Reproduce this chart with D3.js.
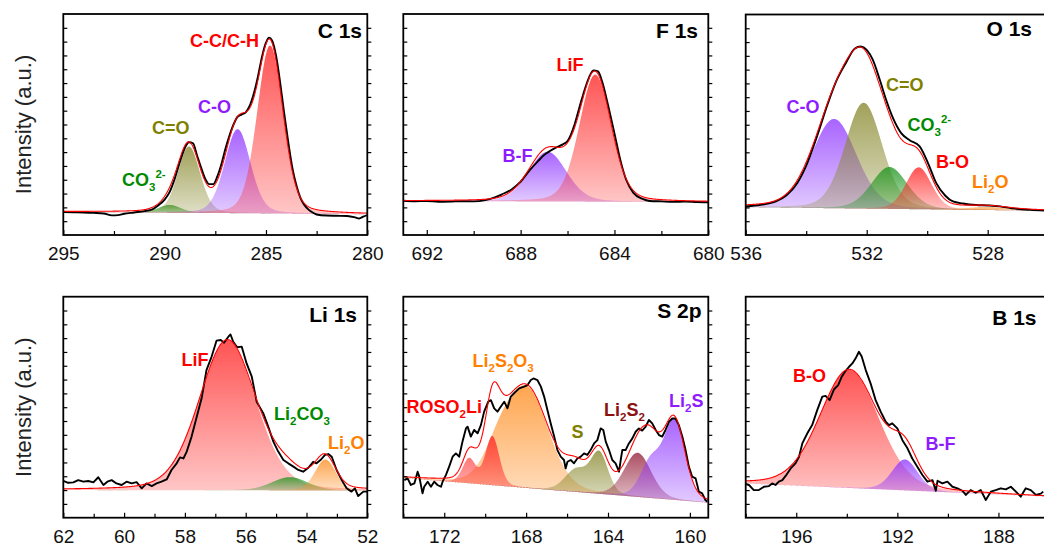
<!DOCTYPE html>
<html>
<head>
<meta charset="utf-8">
<script src="https://cdn.jsdelivr.net/npm/d3@7"></script>
<style>
  html, body { margin: 0; padding: 0; background: #fff; }
  svg { display: block; font-family: "Liberation Sans", Arial, sans-serif; }
</style>
</head>
<body>
<svg id="fig" width="1044" height="549"></svg>
<script>
// ---------------- XPS spectra: measured data (binding energy eV, intensity a.u.) ----------------
const c1sRange = [295, 280];
const c1sTicks = [295, 290, 285, 280];
const c1sMinor = [292.5, 287.5, 282.5];
const c1sBackground = [[295, 10.5], [280, 9.4]];
const c1sRaw = [[295.0,10.4],[294.5,10.3],[294.0,10.2],[293.5,10.0],[293.0,9.7],[292.6,8.9],[292.3,9.0],[292.0,9.6],
  [291.5,10.2],[291.0,10.8],[290.6,11.6],[290.3,13.5],[290.0,16.0],[289.75,19.5],[289.5,25.5],[289.25,33.0],
  [289.0,39.5],[288.8,42.0],[288.6,41.5],[288.4,36.0],[288.2,30.5],[288.0,25.5],[287.8,23.0],[287.6,23.0],
  [287.4,26.5],[287.2,32.0],[287.0,39.0],[286.8,45.0],[286.6,50.0],[286.4,53.5],[286.2,54.5],[286.0,55.5],
  [285.8,58.5],[285.6,64.0],[285.4,71.5],[285.2,80.5],[285.0,87.0],[284.85,89.3],[284.7,88.0],[284.5,81.0],
  [284.3,69.0],[284.1,55.0],[283.9,42.0],[283.7,30.5],[283.5,22.5],[283.3,16.8],[283.1,13.5],[282.9,11.5],
  [282.7,10.2],[282.5,9.3],[282.0,8.8],[281.5,8.7],[281.0,8.6],[280.6,8.0],[280.4,7.5],[280.2,8.3],[280.0,9.0]];
// fitted components: [centre eV, height, FWHM eV]
const c1sComponents = [
  { species: "CO3", peaks: [[289.75, 3.5, 1.3]] },
  { species: "C=O", peaks: [[288.8, 30, 1.3]] },
  { species: "C-O", peaks: [[286.4, 38, 1.5]] },
  { species: "C-C/C-H", peaks: [[284.8, 76, 1.5]] }
];

const f1sRange = [693, 680];
const f1sTicks = [692, 688, 684, 680];
const f1sMinor = [690, 686, 682];
const f1sBackground = [[693, 15.4], [680, 14.9]];
const f1sRaw = [[693.0,15.5],[692.5,15.3],[692.0,15.4],[691.5,15.0],[691.0,15.1],[690.5,15.3],[690.0,15.2],
  [689.5,15.8],[689.1,17.0],[688.8,18.4],[688.4,20.5],[688.0,24.1],[687.6,29.5],[687.25,33.5],[687.0,36.2],
  [686.75,38.0],[686.5,39.5],[686.2,41.0],[686.0,42.5],[685.7,50.0],[685.5,57.5],[685.2,68.0],[684.9,74.5],
  [684.7,74.0],[684.5,68.5],[684.3,60.0],[684.0,46.0],[683.75,34.0],[683.5,25.0],[683.2,19.2],[682.8,16.3],
  [682.5,15.4],[682.0,15.2],[681.5,15.0],[681.0,15.1],[680.5,14.9],[680.0,14.8]];
const f1sComponents = [
  { species: "B-F", peaks: [[686.85, 22.5, 1.9]] },
  { species: "LiF", peaks: [[684.82, 57.5, 1.6]] }
];

const o1sRange = [536, 526];
const o1sTicks = [536, 532, 528];
const o1sMinor = [534, 530, 526];
const o1sBackground = [[536, 12.6], [526, 11.0]];
const o1sRaw = [[536.0,12.9],[535.5,13.7],[535.0,15.2],[534.65,18.0],[534.3,23.5],[534.0,31.5],[533.65,44.5],
  [533.3,59.0],[533.0,70.0],[532.67,78.5],[532.4,84.5],[532.2,85.5],[532.0,84.0],[531.8,79.5],[531.57,70.5],
  [531.35,61.0],[531.13,53.0],[530.86,46.2],[530.58,43.0],[530.25,40.2],[529.97,32.5],[529.7,23.5],
  [529.4,17.8],[529.15,15.2],[528.82,14.3],[528.38,13.6],[528.0,13.4],[527.6,13.0],[527.2,12.1],[526.6,11.4],
  [526.0,11.0]];
const o1sComponents = [
  { species: "C-O", peaks: [[533.08, 40.5, 1.75]] },
  { species: "C=O", peaks: [[532.1, 48, 1.45]] },
  { species: "CO3", peaks: [[531.25, 19, 1.4]] },
  { species: "B-O", peaks: [[530.28, 19, 1.0]] },
  { species: "Li2O", peaks: [[528.0, 1.3, 1.6]] }
];

const li1sRange = [62, 52];
const li1sTicks = [62, 60, 58, 56, 54, 52];
const li1sMinor = [61, 59, 57, 55, 53];
const li1sBackground = [[62, 12.5], [52, 12.3]];
const li1sRaw = [[62.00,16.7],[61.84,15.8],[61.67,16.0],[61.51,17.0],[61.34,16.3],[61.18,16.6],[61.01,16.0],
  [60.85,18.3],[60.68,14.8],[60.55,16.3],[60.41,17.0],[60.25,15.5],[60.08,14.8],[59.92,16.3],[59.75,15.5],
  [59.59,16.1],[59.42,13.3],[59.26,15.5],[59.09,14.3],[58.93,15.5],[58.77,16.3],[58.60,17.3],[58.44,21.6],
  [58.27,24.6],[58.16,27.3],[58.05,26.8],[57.94,29.9],[57.78,36.7],[57.61,45.7],[57.45,54.0],[57.29,66.8],
  [57.12,72.9],[56.96,80.1],[56.82,80.4],[56.71,79.2],[56.57,81.9],[56.50,82.9],[56.41,79.6],[56.28,77.1],
  [56.13,77.4],[55.97,69.8],[55.80,63.8],[55.64,52.5],[55.42,47.2],[55.26,41.2],[55.09,34.4],[54.93,29.9],
  [54.76,26.1],[54.60,24.6],[54.43,23.1],[54.27,21.6],[54.11,20.8],[53.94,22.6],[53.78,25.3],[53.67,24.6],
  [53.54,26.1],[53.39,28.4],[53.28,28.8],[53.17,27.6],[53.01,21.6],[52.84,17.0],[52.68,13.3],[52.52,11.8],
  [52.41,13.3],[52.30,9.8],[52.13,11.8],[52.00,11.8]];
const li1sComponents = [
  { species: "LiF", peaks: [[56.6, 68, 2.2]] },
  { species: "Li2CO3", peaks: [[54.55, 6, 1.4]] },
  { species: "Li2O", peaks: [[53.38, 14, 0.8]] }
];

const s2pRange = [174, 159.1];
const s2pTicks = [172, 168, 164, 160];
const s2pMinor = [174, 170, 166, 162];
const s2pBackground = [[174, 18.0], [159.1, 6.8]];
const s2pRaw = [[173.95,17.0],[173.79,17.8],[173.63,14.8],[173.46,15.5],[173.30,20.8],[173.22,18.6],[173.06,11.0],
  [172.98,14.0],[172.81,16.3],[172.65,14.0],[172.49,16.3],[172.33,14.8],[172.16,14.0],[172.08,16.3],[171.92,19.3],
  [171.76,23.1],[171.59,27.6],[171.43,29.1],[171.27,27.6],[171.11,34.4],[170.94,40.4],[170.86,41.2],[170.70,36.7],
  [170.54,39.7],[170.37,38.2],[170.21,41.9],[170.05,48.0],[169.85,52.5],[169.72,53.2],[169.56,49.5],[169.40,48.0],
  [169.24,50.2],[169.07,52.5],[168.91,49.5],[168.75,54.8],[168.59,56.3],[168.34,58.5],[168.10,59.3],[167.93,60.0],
  [167.77,62.3],[167.64,63.0],[167.53,62.6],[167.45,62.3],[167.28,59.3],[167.12,54.8],[166.96,48.7],[166.80,42.7],
  [166.63,36.7],[166.47,30.6],[166.31,27.6],[166.15,26.1],[166.07,22.3],[165.98,25.3],[165.82,26.1],[165.66,24.6],
  [165.50,26.8],[165.33,27.6],[165.17,29.1],[165.01,28.4],[164.85,30.6],[164.68,33.6],[164.52,35.1],[164.36,40.4],
  [164.23,39.7],[164.11,34.4],[163.95,30.6],[163.79,26.1],[163.63,24.6],[163.46,20.8],[163.38,26.1],[163.30,30.6],
  [163.14,30.6],[162.98,33.6],[162.81,35.9],[162.65,38.9],[162.49,40.4],[162.33,39.4],[162.16,41.2],[162.00,44.2],
  [161.84,42.7],[161.67,39.7],[161.51,37.4],[161.35,36.7],[161.19,39.7],[161.02,43.4],[160.86,44.9],[160.70,44.9],
  [160.54,41.9],[160.37,36.7],[160.21,30.6],[160.05,23.1],[159.89,18.6],[159.72,17.8],[159.56,11.8],[159.40,11.0],
  [159.24,8.0],[159.15,7.2]];
const s2pComponents = [
  { species: "Li2S2O3", peaks: [[167.9, 43, 2.4], [169.3, 14, 1.8]] },
  { species: "ROSO2Li", peaks: [[170.78, 11, 0.75], [169.65, 22, 0.8]] },
  { species: "S", peaks: [[164.42, 18, 1.0], [165.55, 10, 1.3]] },
  { species: "Li2S2", peaks: [[162.55, 20, 1.55]] },
  { species: "Li2S", peaks: [[160.75, 35, 1.2], [161.9, 16, 1.2]] }
];

const b1sRange = [198, 186];
const b1sTicks = [196, 192, 188];
const b1sMinor = [198, 194, 190, 186];
const b1sBackground = [[198, 15.5], [186, 9.5]];
const b1sRaw = [[198.05,15.5],[197.87,14.8],[197.68,12.5],[197.48,12.5],[197.28,14.0],[197.08,14.3],[196.95,15.5],
  [196.82,14.8],[196.69,16.3],[196.55,17.0],[196.42,18.9],[196.22,22.3],[196.03,24.6],[195.89,27.6],[195.76,33.6],
  [195.56,38.2],[195.37,41.9],[195.17,48.7],[194.97,54.8],[194.84,55.1],[194.68,53.2],[194.51,58.0],[194.34,60.0],
  [194.20,63.8],[194.07,66.1],[193.91,68.3],[193.78,69.8],[193.65,72.1],[193.52,75.1],[193.41,72.9],[193.25,66.8],
  [193.06,60.8],[192.86,53.2],[192.66,48.0],[192.46,43.4],[192.33,41.9],[192.20,42.7],[192.00,40.4],[191.80,35.1],
  [191.60,31.4],[191.41,26.8],[191.21,23.1],[191.01,19.3],[190.81,16.3],[190.61,17.0],[190.48,12.2],[190.41,16.7],
  [190.22,15.5],[190.02,16.3],[189.82,14.0],[189.62,13.3],[189.43,12.2],[189.29,10.3],[189.10,12.5],[188.90,11.3],
  [188.70,12.5],[188.50,8.0],[188.30,11.8],[188.11,12.5],[187.91,13.3],[187.71,12.8],[187.51,14.0],[187.31,11.8],
  [187.12,9.5],[186.92,13.3],[186.72,12.5],[186.52,10.3],[186.32,10.9],[186.23,11.8]];
const b1sComponents = [
  { species: "B-O", peaks: [[193.9, 53.5, 2.75]] },
  { species: "B-F", peaks: [[191.7, 14, 1.2]] }
];

const panelTitles = ["C 1s", "F 1s", "O 1s", "Li 1s", "S 2p", "B 1s"];

// ---------------- styling & layout ----------------
const speciesHue = {
  "C-C/C-H": "red", "C-O": "purple", "C=O": "olive", "CO3": "green", "LiF": "red", "B-F": "purple",
  "B-O": "red", "Li2O": "orange", "Li2CO3": "green", "ROSO2Li": "red", "Li2S2O3": "orange",
  "S": "olive", "Li2S2": "maroon", "Li2S": "purple"
};
const fillColor = { red: "#ff2424", purple: "#9038ff", olive: "#87872c", green: "#1c941c", orange: "#ff8c1e", maroon: "#941e38" };
const textColor = { red: "#ff0000", purple: "#8f1cff", olive: "#808000", green: "#008a00", orange: "#ff8000", maroon: "#8b1010" };
// label markup: [text, "sub" | "sup" | ""]
const speciesMarkup = {
  "C-C/C-H": [["C-C/C-H", ""]], "C-O": [["C-O", ""]], "C=O": [["C=O", ""]],
  "CO3": [["CO", ""], ["3", "sub"], ["2-", "sup"]], "LiF": [["LiF", ""]], "B-F": [["B-F", ""]],
  "B-O": [["B-O", ""]], "Li2O": [["Li", ""], ["2", "sub"], ["O", ""]],
  "Li2CO3": [["Li", ""], ["2", "sub"], ["CO", ""], ["3", "sub"]],
  "ROSO2Li": [["ROSO", ""], ["2", "sub"], ["Li", ""]],
  "Li2S2O3": [["Li", ""], ["2", "sub"], ["S", ""], ["2", "sub"], ["O", ""], ["3", "sub"]],
  "S": [["S", ""]], "Li2S2": [["Li", ""], ["2", "sub"], ["S", ""], ["2", "sub"]],
  "Li2S": [["Li", ""], ["2", "sub"], ["S", ""]]
};

const panels = [
  { range: c1sRange, ticks: c1sTicks, minor: c1sMinor, bg: c1sBackground, raw: c1sRaw, comps: c1sComponents,
    box: [63.3, 14, 367.3, 235], smooth: true, yTitle: true, titlePos: [362, 38],
    labelPos: { "C-C/C-H": [190, 46.5], "C-O": [198, 113], "C=O": [152, 134], "CO3": [122, 186] } },
  { range: f1sRange, ticks: f1sTicks, minor: f1sMinor, bg: f1sBackground, raw: f1sRaw, comps: f1sComponents,
    box: [403.3, 14, 708.3, 235], smooth: true, titlePos: [698, 38],
    labelPos: { "LiF": [556.5, 70.5], "B-F": [502.5, 161.5] } },
  { range: o1sRange, ticks: o1sTicks, minor: o1sMinor, bg: o1sBackground, raw: o1sRaw, comps: o1sComponents,
    box: [745.7, 14.5, 1048.2, 235], smooth: true, titlePos: [1032, 35.5],
    labelPos: { "C=O": [886, 90.5], "C-O": [786.5, 113], "CO3": [907.5, 130.5], "B-O": [936, 168], "Li2O": [972, 188] } },
  { range: li1sRange, ticks: li1sTicks, minor: li1sMinor, bg: li1sBackground, raw: li1sRaw, comps: li1sComponents,
    box: [63.3, 296.7, 367.3, 517.7], smooth: false, yTitle: true, titlePos: [357, 321.5],
    labelPos: { "LiF": [181.5, 365.5], "Li2CO3": [274, 420], "Li2O": [328, 449] } },
  { range: s2pRange, ticks: s2pTicks, minor: s2pMinor, bg: s2pBackground, raw: s2pRaw, comps: s2pComponents,
    box: [403.3, 296.7, 708.3, 517.7], smooth: false, titlePos: [701.5, 318],
    labelPos: { "Li2S2O3": [472.5, 366.5], "ROSO2Li": [406.5, 413], "S": [571.5, 438], "Li2S2": [604, 415.5], "Li2S": [669, 406.5] } },
  { range: b1sRange, ticks: b1sTicks, minor: b1sMinor, bg: b1sBackground, raw: b1sRaw, comps: b1sComponents,
    box: [745.7, 296.7, 1049, 517.7], smooth: false, titlePos: [1036.5, 325],
    labelPos: { "B-O": [793, 381.5], "B-F": [925.5, 450] } }
];

// Gaussian-Lorentzian line shape used by the peak fit
const glMix = 0.2;
function peakValue(e, [c, h, w]) {
  const d = (e - c) / w;
  return h * ((1 - glMix) * Math.exp(-4 * Math.LN2 * d * d) + glMix / (1 + 4 * d * d));
}

const svg = d3.select("#fig");
const defs = svg.append("defs");

// vertical fade for each component fill
Object.entries(fillColor).forEach(([name, col]) => {
  const g = defs.append("linearGradient").attr("id", "fade-" + name)
    .attr("x1", 0).attr("y1", 0).attr("x2", 0).attr("y2", 1);
  g.append("stop").attr("offset", 0).attr("stop-color", col).attr("stop-opacity", 0.78);
  g.append("stop").attr("offset", 1).attr("stop-color", col).attr("stop-opacity", 0.26);
});

function drawLabel(g, parts, x, y, color, size, anchor) {
  const t = g.append("text").attr("x", x).attr("y", y).attr("fill", color)
    .attr("font-weight", "bold").attr("font-size", size).attr("text-anchor", anchor || "start");
  let shift = 0;
  parts.forEach(([s, kind]) => {
    const ts = t.append("tspan").text(s);
    const target = kind === "sub" ? 5 : kind === "sup" ? -8 : 0;
    ts.attr("dy", target - shift);
    shift = target;
    if (kind) ts.attr("font-size", size * 0.64);
  });
  return t;
}

panels.forEach((p, i) => {
  const [x0, y0, x1, y1] = p.box;
  const x = d3.scaleLinear().domain(p.range).range([x0, x1]);
  const y = d3.scaleLinear().domain([0, 100]).range([y1, y0]);
  const base = d3.scaleLinear().domain(p.bg.map(d => d[0])).range(p.bg.map(d => d[1]));

  const g = svg.append("g");
  const clipId = "clip" + i;
  defs.append("clipPath").attr("id", clipId).append("rect")
    .attr("x", x0).attr("y", y0).attr("width", x1 - x0).attr("height", y1 - y0);
  const plot = g.append("g").attr("clip-path", `url(#${clipId})`);

  // energy grid for the fitted curves
  const grid = d3.range(0, 601).map(k => p.range[0] + (p.range[1] - p.range[0]) * k / 600);

  p.comps.forEach(c => {
    const pts = grid.map(e => {
      const b = base(e);
      const v = d3.sum(c.peaks, pk => peakValue(e, pk));
      return [e, b, b + v];
    });
    const area = d3.area().x(d => x(d[0])).y0(d => y(d[1])).y1(d => y(d[2]));
    plot.append("path").attr("d", area(pts)).attr("fill", `url(#fade-${speciesHue[c.species]})`);
  });

  // measured spectrum
  const line = d3.line().x(d => x(d[0])).y(d => y(d[1]))
    .curve(p.smooth ? d3.curveMonotoneX : d3.curveLinear);
  plot.append("path").attr("d", line(p.raw)).attr("fill", "none")
    .attr("stroke", "#000").attr("stroke-width", 1.9).attr("stroke-linejoin", "round");

  // fit envelope = background + all components
  const env = grid.map(e => [e, base(e) + d3.sum(p.comps, c => d3.sum(c.peaks, pk => peakValue(e, pk)))]);
  plot.append("path").attr("d", d3.line().x(d => x(d[0])).y(d => y(d[1]))(env))
    .attr("fill", "none").attr("stroke", "#ff0000").attr("stroke-width", 1.1);

  // axes
  const intensityTicks = d3.range(1, 16).map(k => k * 100 / 16);
  const bottom = g.append("g").attr("transform", `translate(0,${y1})`)
    .call(d3.axisBottom(x).tickValues(p.ticks).tickSize(-5).tickPadding(12).tickFormat(d3.format("d")));
  bottom.selectAll("text").attr("font-size", 19).attr("fill", "#111")
    .attr("font-family", '"Liberation Sans", Arial, sans-serif');
  g.append("g").attr("transform", `translate(0,${y1})`)
    .call(d3.axisBottom(x).tickValues(p.minor).tickSize(-4).tickFormat(""));
  g.append("g").attr("transform", `translate(${x0},0)`)
    .call(d3.axisLeft(y).tickValues(intensityTicks).tickSize(-4).tickFormat(""));
  g.append("g").attr("transform", `translate(${x1},0)`)
    .call(d3.axisRight(y).tickValues(intensityTicks).tickSize(4).tickFormat(""));
  g.selectAll(".domain").remove();
  g.selectAll(".tick line").attr("stroke", "#000").attr("stroke-width", 1.2);

  g.append("rect").attr("x", x0).attr("y", y0).attr("width", x1 - x0).attr("height", y1 - y0)
    .attr("fill", "none").attr("stroke", "#000").attr("stroke-width", 1.8);

  // titles and component labels
  drawLabel(g, [[panelTitles[i], ""]], p.titlePos[0], p.titlePos[1], "#000", 21, "end");
  Object.entries(p.labelPos).forEach(([sp, [lx, ly]]) => {
    drawLabel(g, speciesMarkup[sp], lx, ly, textColor[speciesHue[sp]], 18);
  });

  if (p.yTitle) {
    g.append("text").attr("transform", `translate(31,${(y0 + y1) / 2}) rotate(-90)`)
      .attr("text-anchor", "middle").attr("font-size", 22).attr("fill", "#222")
      .text("Intensity (a.u.)");
  }
});
</script>
</body>
</html>
